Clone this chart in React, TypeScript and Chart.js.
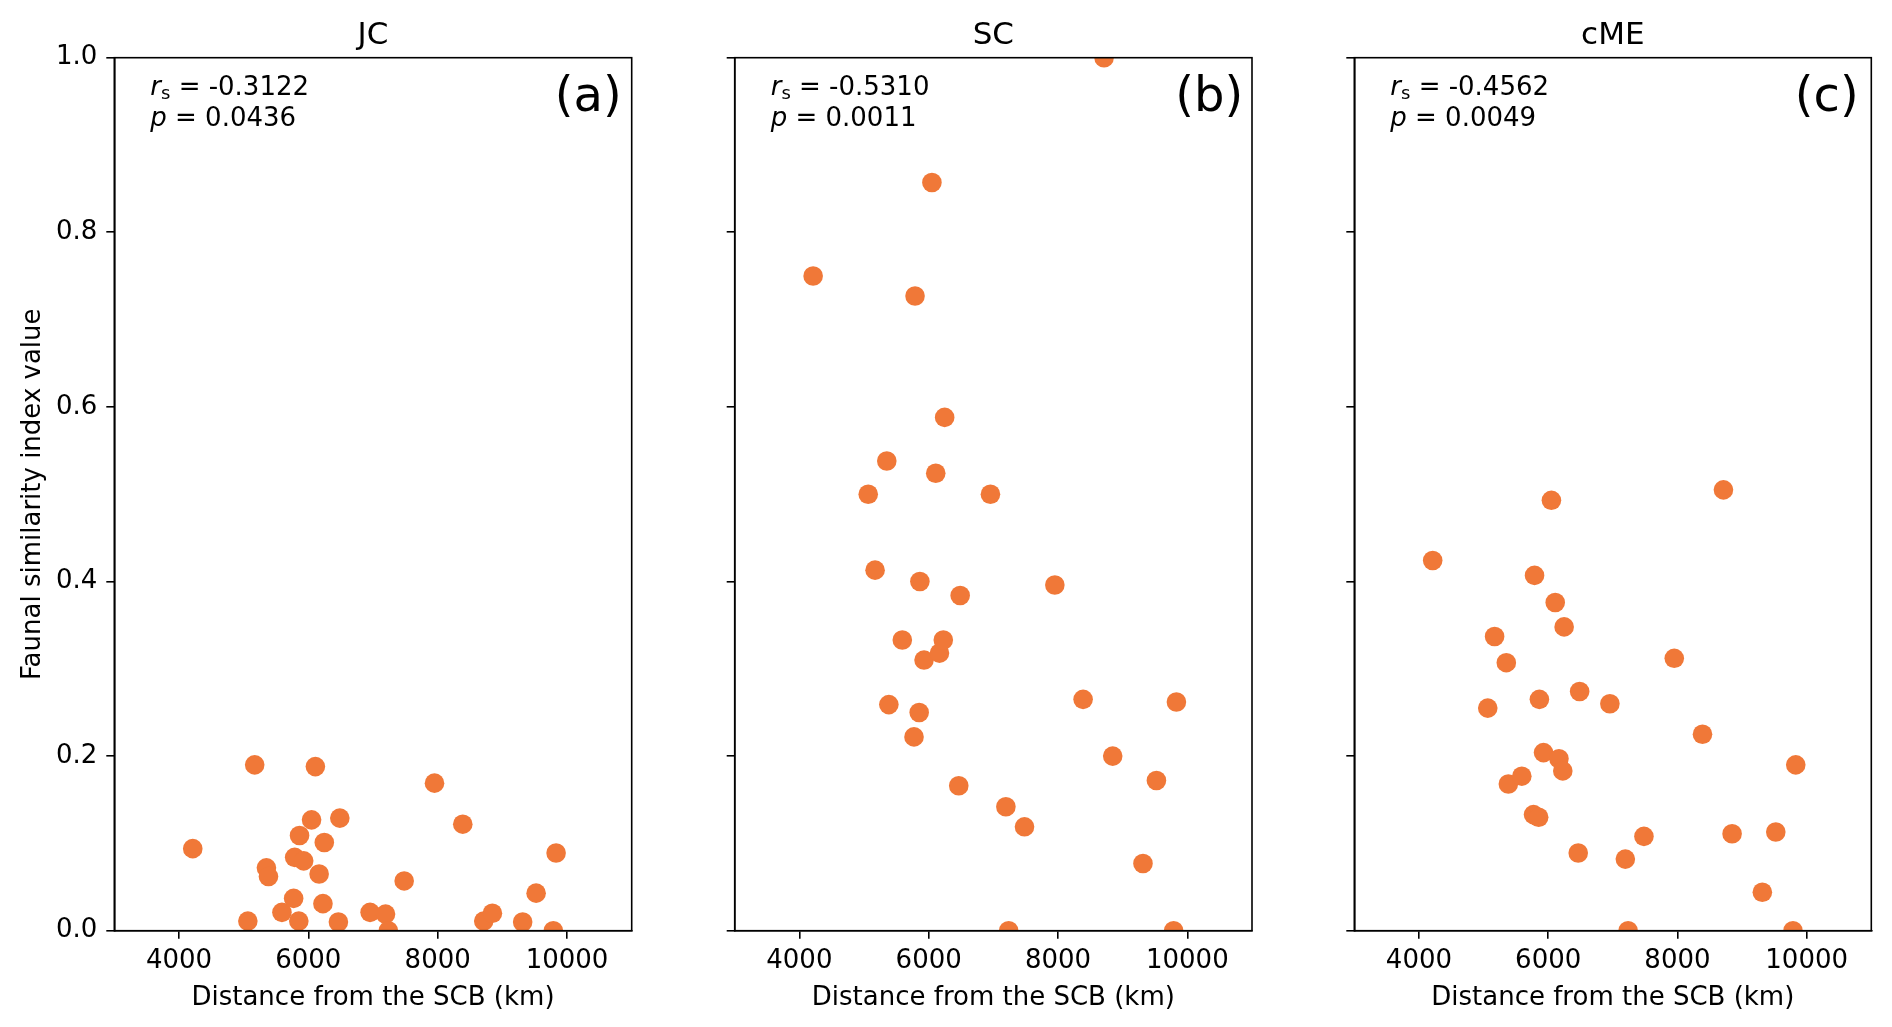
import React, { useEffect, useRef } from 'react';
import { Chart, registerables } from 'chart.js';

Chart.register(...registerables);

// ---- data ----
const distanceKm = [4213, 5065, 5171, 5352, 5384, 5592, 5773, 5789, 5853, 5864, 5928, 6050, 6109, 6167, 6226, 6247, 6465, 6487, 6955, 7194, 7237, 7482, 7951, 8388, 8712, 8846, 9314, 9522, 9788, 9831];
const jcIndex = [0.094, 0.011, 0.19, 0.072, 0.062, 0.021, 0.037, 0.084, 0.011, 0.109, 0.08, 0.127, 0.188, 0.065, 0.031, 0.101, 0.01, 0.129, 0.021, 0.019, 0, 0.057, 0.169, 0.122, 0.011, 0.02, 0.01, 0.043, 0, 0.089];
const scIndex = [0.75, 0.5, 0.413, 0.538, 0.259, 0.333, 0.222, 0.727, 0.25, 0.4, 0.31, 0.857, 0.524, 0.318, 0.333, 0.588, 0.166, 0.384, 0.5, 0.142, 0, 0.119, 0.396, 0.265, 1.0, 0.2, 0.077, 0.172, 0, 0.262];
const cmeIndex = [0.424, 0.255, 0.337, 0.307, 0.168, 0.177, 0.133, 0.407, 0.13, 0.265, 0.204, 0.493, 0.376, 0.197, 0.183, 0.348, 0.089, 0.274, 0.26, 0.082, 0, 0.108, 0.312, 0.225, 0.505, 0.111, 0.044, 0.113, 0, 0.19];

const xTickValues = [4000, 6000, 8000, 10000];
const yTickValues = [0, 0.2, 0.4, 0.6, 0.8, 1.0];
const xRange = [3000, 11000];
const yRange = [0, 1];

const panelTitles = ['JC', 'SC', 'cME'];
const panelLetters = ['(a)', '(b)', '(c)'];
const rsValues = ['-0.3122', '-0.5310', '-0.4562'];
const pValues = ['0.0436', '0.0011', '0.0049'];
const panelValues = [jcIndex, scIndex, cmeIndex];

const xAxisLabel = 'Distance from the SCB (km)';
const yAxisLabel = 'Faunal similarity index value';

// ---- styling / layout ----
const FONT = "'DejaVu Sans', sans-serif";
const DOT = '#F07838';
const H = 1027;
const AREA_TOP = 57.7;
const AREA_BOTTOM = 930.7;

const layouts = [
  { left: 0, width: 683, areaLeft: 114.3, areaRight: 631.7, showY: true },
  { left: 683, width: 620, areaLeft: 51.7, areaRight: 569, showY: false },
  { left: 1303, width: 589, areaLeft: 51.3, areaRight: 568.3, showY: false },
];

function Panel({ idx }: { idx: number }) {
  const ref = useRef<HTMLCanvasElement>(null);
  const L = layouts[idx];

  useEffect(() => {
    if (!ref.current) return;
    const values = panelValues[idx];

    const textPlugin = {
      id: 'panelText' + idx,
      afterDatasetsDraw(chart: any) {
        const { ctx, chartArea: a } = chart;
        ctx.save();
        // frame (all four spines)
        ctx.strokeStyle = '#000';
        ctx.lineWidth = 1.6;
        ctx.strokeRect(a.left, a.top, a.right - a.left, a.bottom - a.top);

        ctx.fillStyle = '#000';
        ctx.textBaseline = 'alphabetic';
        // panel title
        ctx.font = `31px ${FONT}`;
        ctx.textAlign = 'center';
        ctx.fillText(panelTitles[idx], (a.left + a.right) / 2, a.top - 14);

        // statistics text
        ctx.textAlign = 'left';
        const y1 = a.top + 37.7;
        const y2 = a.top + 68.4;
        let x = a.left + 36;
        ctx.font = `italic 26px ${FONT}`;
        ctx.fillText('r', x, y1);
        x += ctx.measureText('r').width;
        ctx.font = `18px ${FONT}`;
        ctx.fillText('s', x, y1 + 4);
        x += ctx.measureText('s').width;
        ctx.font = `26px ${FONT}`;
        ctx.fillText(' = ' + rsValues[idx], x, y1);

        let px = a.left + 36;
        ctx.font = `italic 26px ${FONT}`;
        ctx.fillText('p', px, y2);
        px += ctx.measureText('p').width;
        ctx.font = `26px ${FONT}`;
        ctx.fillText(' = ' + pValues[idx], px, y2);

        // panel letter
        ctx.font = `48px ${FONT}`;
        ctx.fillText(panelLetters[idx], a.left + 440.5, a.top + 53.4);
        ctx.restore();
      },
    };

    const gridOpts = {
      display: true,
      drawOnChartArea: false,
      drawTicks: true,
      tickLength: 8,
      tickColor: '#000',
      tickWidth: 1.6,
      color: '#000',
      lineWidth: 1.6,
    };
    const borderOpts = { display: true, color: '#000', width: 1.6 };

    const chart = new Chart(ref.current, {
      type: 'scatter',
      data: {
        datasets: [
          {
            data: distanceKm.map((d, i) => ({ x: d, y: values[i] })),
            backgroundColor: DOT,
            borderColor: DOT,
            borderWidth: 0,
            pointRadius: 9.8,
            pointHoverRadius: 9.8,
            clip: 0,
          } as any,
        ],
      },
      plugins: [textPlugin],
      options: {
        responsive: false,
        animation: false,
        devicePixelRatio: 1,
        events: [],
        layout: { padding: { left: 0, right: L.width - L.areaRight, top: AREA_TOP, bottom: 0 } },
        plugins: {
          legend: { display: false },
          tooltip: { enabled: false },
          title: { display: false },
        },
        scales: {
          x: {
            type: 'linear',
            min: xRange[0],
            max: xRange[1],
            afterBuildTicks: (s: any) => {
              s.ticks = xTickValues.map((v) => ({ value: v }));
            },
            afterFit: (s: any) => {
              s.height = H - AREA_BOTTOM;
            },
            ticks: {
              color: '#000',
              font: { size: 26, family: FONT },
              padding: 7,
              maxRotation: 0,
              autoSkip: false,
              callback: (v: any) => String(v),
            },
            grid: gridOpts as any,
            border: borderOpts as any,
            title: {
              display: true,
              text: xAxisLabel,
              color: '#000',
              font: { size: 26, family: FONT },
              padding: { top: 0, bottom: 13.5 },
            },
          },
          y: {
            type: 'linear',
            min: yRange[0],
            max: yRange[1],
            afterBuildTicks: (s: any) => {
              s.ticks = yTickValues.map((v) => ({ value: v }));
            },
            afterFit: (s: any) => {
              s.width = L.areaLeft;
            },
            ticks: {
              display: L.showY,
              color: '#000',
              font: { size: 26, family: FONT },
              padding: 9,
              callback: (v: any) => Number(v).toFixed(1),
            },
            grid: gridOpts as any,
            border: borderOpts as any,
            title: {
              display: L.showY,
              text: yAxisLabel,
              color: '#000',
              font: { size: 26, family: FONT },
              padding: { top: 17.5, bottom: 0 },
            },
          },
        },
      } as any,
    });
    return () => chart.destroy();
  }, [idx]);

  return (
    <canvas
      ref={ref}
      width={L.width}
      height={H}
      style={{ position: 'absolute', left: L.left, top: 0, width: L.width, height: H }}
    />
  );
}

export default function App() {
  return (
    <div style={{ position: 'absolute', left: 0, top: 0, width: 1892, height: H, background: '#fff', overflow: 'hidden' }}>
      <Panel idx={0} />
      <Panel idx={1} />
      <Panel idx={2} />
    </div>
  );
}
